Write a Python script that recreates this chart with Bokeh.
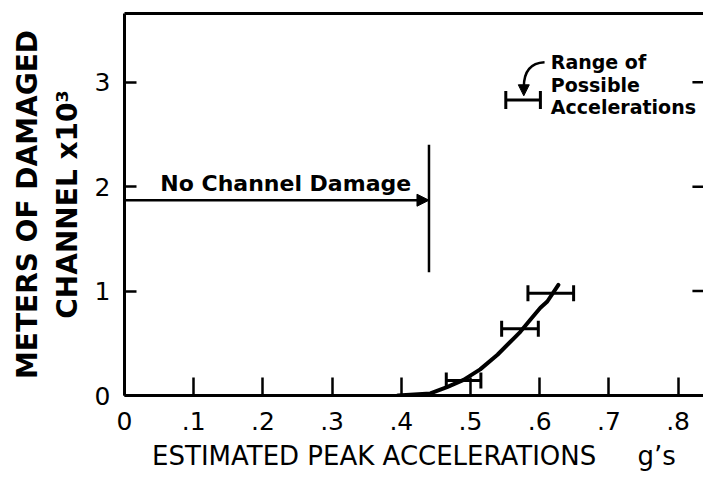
from bokeh.plotting import figure
from bokeh.models import (ColumnDataSource, Whisker, TeeHead, Arrow, NormalHead,
                          Label, LinearAxis, Range1d, FixedTicker)
from bokeh.embed import file_html
from bokeh.resources import INLINE
from bokeh.core.properties import value

# ---- data ----
X_TICKS = [0, 0.1, 0.2, 0.3, 0.4, 0.5, 0.6, 0.7, 0.8]
X_TICK_LABELS = ["0", ".1", ".2", ".3", ".4", ".5", ".6", ".7", ".8"]
Y_TICKS = [0, 1, 2, 3]
RIGHT_TICKS = [1, 2, 3]

CURVE_X = [0.395, 0.442, 0.466, 0.490, 0.514, 0.539, 0.563, 0.572, 0.587, 0.601, 0.611, 0.627]
CURVE_Y = [0.0, 0.02, 0.08, 0.15, 0.25, 0.39, 0.55, 0.61, 0.73, 0.84, 0.90, 1.06]

BAR_Y = [0.143, 0.64, 0.98]
BAR_LO = [0.465, 0.545, 0.583]
BAR_HI = [0.515, 0.598, 0.649]

NO_DAMAGE_LIMIT = 0.44
NO_DAMAGE_ARROW_Y = 1.87
NO_DAMAGE_LINE_Y = [1.18, 2.40]

LEGEND_BAR_Y = [2.83]
LEGEND_BAR_LO = [0.551]
LEGEND_BAR_HI = [0.601]
LEGEND_LINES = ["Range of", "Possible", "Accelerations"]
LEGEND_LINES_Y = [3.19, 2.97, 2.76]

X_MAX = 0.8367
Y_MAX = 3.658

FONT = "DejaVu Sans"
NB = "\u00a0"

p = figure(width=703, height=473, output_backend="svg", toolbar_location=None,
           x_range=Range1d(0, X_MAX), y_range=Range1d(0, Y_MAX),
           min_border_left=124, min_border_right=0, min_border_top=13,
           min_border_bottom=77)
p.background_fill_color = "white"
p.border_fill_color = "white"
p.outline_line_color = None
p.xgrid.visible = False
p.ygrid.visible = False

# axes
xa = p.xaxis[0]
xa.ticker = FixedTicker(ticks=X_TICKS)
xa.major_label_overrides = {t: l for t, l in zip(X_TICKS, X_TICK_LABELS)}
xa.axis_line_width = 3
xa.major_tick_in = 18
xa.major_tick_out = 0
xa.major_tick_line_width = 2.5
xa.minor_tick_line_color = None
xa.major_label_text_font = FONT
xa.major_label_text_font_size = "25px"
xa.major_label_text_color = "black"
xa.major_label_standoff = 16
xa.axis_label = "ESTIMATED PEAK ACCELERATIONS" + NB * 5 + "g\u2019s"
xa.axis_label_text_font = FONT
xa.axis_label_text_font_size = "26px"
xa.axis_label_text_font_style = "normal"
xa.axis_label_text_color = "black"
xa.axis_label_standoff = 8

ya = p.yaxis[0]
ya.ticker = FixedTicker(ticks=Y_TICKS)
ya.axis_line_width = 3
ya.major_tick_in = 12
ya.major_tick_out = 0
ya.major_tick_line_width = 2.5
ya.minor_tick_line_color = None
ya.major_label_text_font = FONT
ya.major_label_text_font_size = "25px"
ya.major_label_text_color = "black"
ya.major_label_standoff = 14
ya.axis_label = "METERS OF DAMAGED\nCHANNEL x10\u00b3"
ya.axis_label_text_font = FONT
ya.axis_label_text_font_size = "28px"
ya.axis_label_text_font_style = "bold"
ya.axis_label_text_color = "black"
ya.axis_label_standoff = 8

top = LinearAxis(ticker=FixedTicker(ticks=[]), axis_line_width=3,
                 major_label_text_font_size="0px", major_tick_line_color=None,
                 minor_tick_line_color=None, major_label_standoff=0)
p.add_layout(top, "above")

# right-side inward ticks
p.segment(x0=[X_MAX] * len(RIGHT_TICKS), x1=[X_MAX - 0.016] * len(RIGHT_TICKS),
          y0=RIGHT_TICKS, y1=RIGHT_TICKS, line_color="black", line_width=2.5)

# curve
p.line(CURVE_X, CURVE_Y, line_color="black", line_width=4, line_join="round", line_cap="round")

# error bars
src = ColumnDataSource(dict(y=BAR_Y, lo=BAR_LO, hi=BAR_HI))
p.add_layout(Whisker(source=src, base="y", lower="lo", upper="hi", dimension="width",
                     line_width=3, line_color="black",
                     lower_head=TeeHead(size=16, line_width=3),
                     upper_head=TeeHead(size=16, line_width=3)))

# legend error bar
lsrc = ColumnDataSource(dict(y=LEGEND_BAR_Y, lo=LEGEND_BAR_LO, hi=LEGEND_BAR_HI))
p.add_layout(Whisker(source=lsrc, base="y", lower="lo", upper="hi", dimension="width",
                     line_width=3, line_color="black",
                     lower_head=TeeHead(size=18, line_width=3),
                     upper_head=TeeHead(size=18, line_width=3)))

# legend text
p.text(x=[0.616] * len(LEGEND_LINES), y=LEGEND_LINES_Y, text=LEGEND_LINES,
       text_font=value(FONT), text_font_style="bold", text_font_size="19px",
       text_align="left", text_baseline="middle", text_color="black")

# curved arrow to legend bar
p.quadratic(x0=[0.607], y0=[3.19], x1=[0.577], y1=[2.95], cx=[0.577], cy=[3.18],
            line_color="black", line_width=2.5)
p.add_layout(Arrow(x_start=0.577, y_start=2.96, x_end=0.577, y_end=2.87,
                   line_width=2.5, line_color="black",
                   end=NormalHead(size=11, fill_color="black", line_color="black")))

# no channel damage
p.add_layout(Arrow(x_start=0, y_start=NO_DAMAGE_ARROW_Y, x_end=NO_DAMAGE_LIMIT,
                   y_end=NO_DAMAGE_ARROW_Y, line_width=2.5, line_color="black",
                   end=NormalHead(size=12, fill_color="black", line_color="black")))
p.segment(x0=[NO_DAMAGE_LIMIT], x1=[NO_DAMAGE_LIMIT], y0=[NO_DAMAGE_LINE_Y[0]],
          y1=[NO_DAMAGE_LINE_Y[1]], line_color="black", line_width=2.5)
p.add_layout(Label(x=0.233, y=2.03, text="No Channel Damage", text_font=FONT,
                   text_font_style="bold", text_font_size="22px", text_color="black",
                   text_align="center", text_baseline="middle"))

open("out.html", "w").write(file_html(p, INLINE))
